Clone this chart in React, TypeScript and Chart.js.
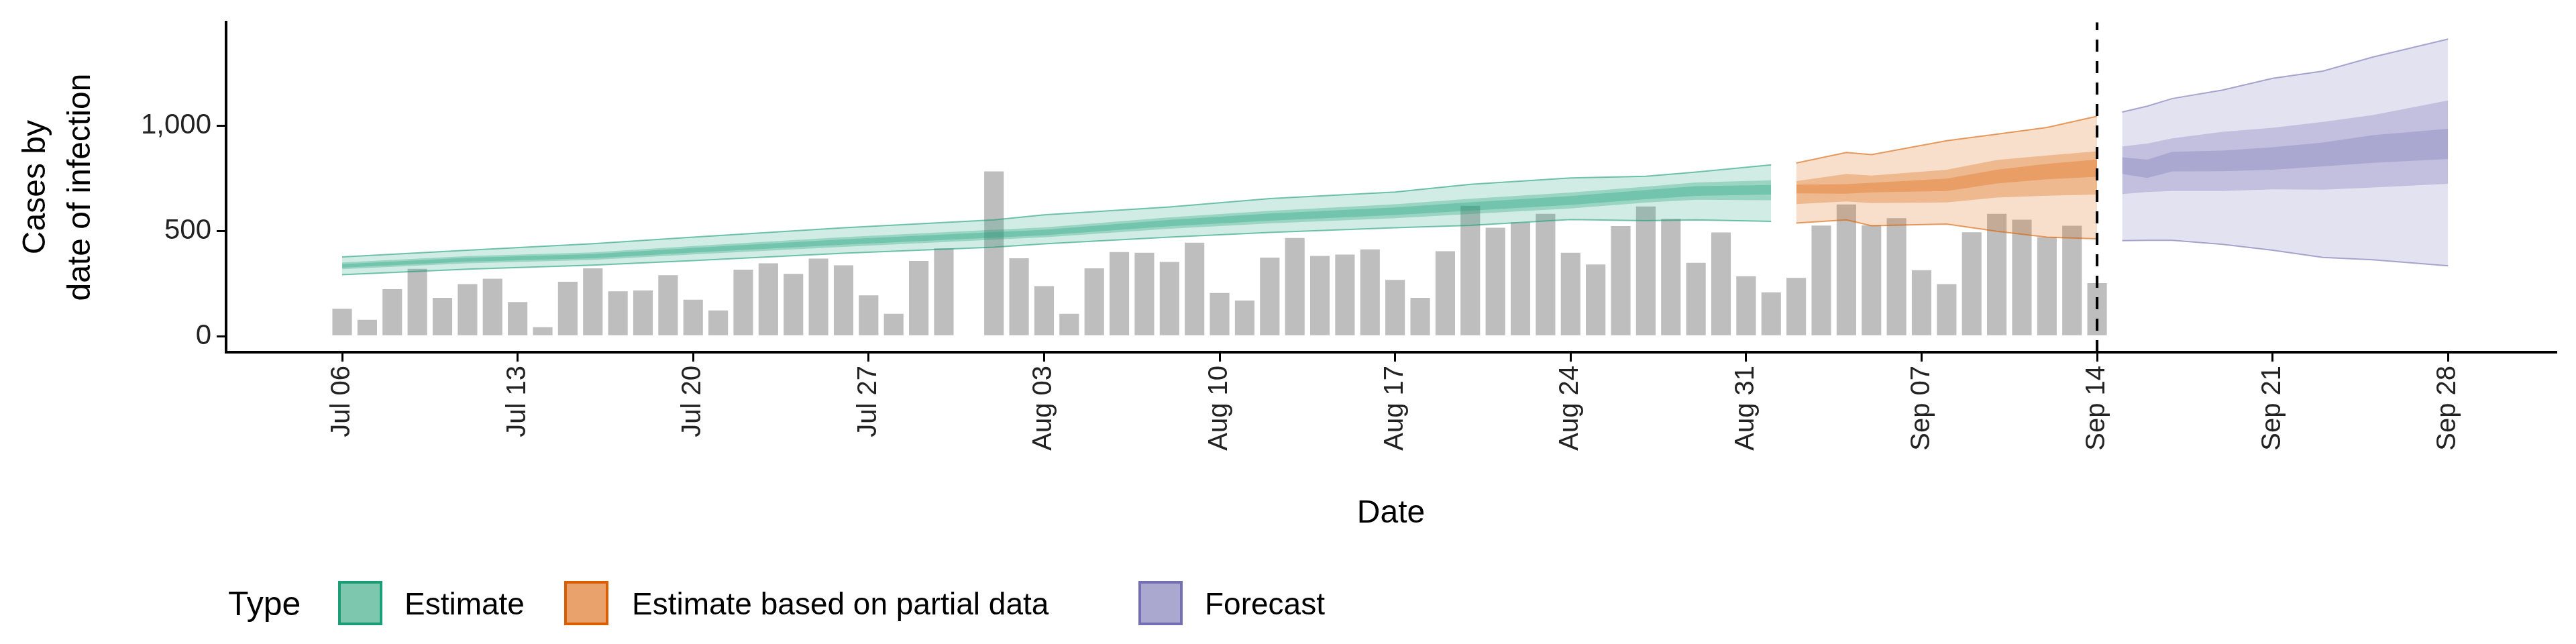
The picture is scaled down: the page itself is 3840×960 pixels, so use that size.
import React, { useEffect, useRef } from 'react';
import { Chart, registerables } from 'chart.js';

Chart.register(...registerables);

// day index: 0 = Jul 06
const tickDays = [0, 7, 14, 21, 28, 35, 42, 49, 56, 63, 70, 77, 84];
const tickLabels = ['Jul 06', 'Jul 13', 'Jul 20', 'Jul 27', 'Aug 03', 'Aug 10', 'Aug 17', 'Aug 24', 'Aug 31', 'Sep 07', 'Sep 14', 'Sep 21', 'Sep 28'];

// reported cases (null = no bar)
const caseDays = Array.from({ length: 71 }, (_, i) => i);
const cases = [
  130, 78, 223, 320, 182, 247, 273, 162, 43, 258, 322, 213, 217, 289,
  173, 122, 316, 346, 296, 368, 336, 194, 106, 357, 417, null, 782, 370,
  238, 106, 322, 399, 396, 352, 444, 205, 169, 373, 466, 381, 387, 412,
  267, 182, 403, 619, 515, 540, 581, 396, 340, 523, 616, 557, 348, 492,
  285, 208, 277, 525, 625, 526, 560, 313, 247, 493, 581, 553, 470, 524, 252,
];

const greenDays = [0, 5, 10, 14, 20, 26, 28, 33, 37, 42, 45, 49, 52, 54, 57];
const greenHi90 = [376, 408, 439, 470, 515, 552, 576, 613, 653, 684, 721, 751, 759, 779, 813];
const greenLo90 = [292, 318, 337, 359, 394, 422, 438, 470, 492, 515, 526, 554, 548, 552, 545];
const greenHi50 = [350, 380, 398, 428, 470, 505, 516, 564, 595, 626, 652, 682, 710, 730, 740];
const greenLo50 = [318, 346, 362, 388, 424, 458, 469, 510, 535, 560, 580, 606, 634, 648, 645];
const greenHi20 = [342, 372, 390, 419, 460, 494, 505, 552, 582, 611, 636, 665, 694, 712, 718];
const greenLo20 = [325, 354, 370, 397, 434, 468, 479, 522, 548, 575, 596, 623, 650, 666, 672];

const orangeDays = [58, 60, 61, 64, 66, 68, 70];
const orangeHi90 = [822, 872, 862, 928, 959, 991, 1044];
const orangeLo90 = [537, 552, 524, 532, 498, 470, 462];
const orangeHi50 = [736, 770, 762, 790, 836, 858, 878];
const orangeLo50 = [627, 640, 632, 635, 658, 667, 672];
const orangeHi20 = [719, 722, 728, 748, 790, 818, 839];
const orangeLo20 = [678, 676, 683, 689, 725, 745, 757];

const purpleDays = [71, 72, 73, 75, 77, 79, 81, 84];
const purpleHi90 = [1064, 1092, 1128, 1168, 1224, 1258, 1325, 1410];
const purpleLo90 = [453, 455, 455, 436, 408, 374, 363, 334];
const purpleHi50 = [901, 914, 939, 970, 989, 1017, 1050, 1119];
const purpleLo50 = [675, 684, 689, 689, 697, 695, 706, 723];
const purpleHi20 = [849, 838, 875, 881, 897, 919, 954, 984];
const purpleLo20 = [770, 751, 782, 783, 790, 806, 823, 841];

const forecastStart = 70;

const pts = (xs: number[], ys: number[]) => xs.map((x, i) => ({ x, y: ys[i] }));

const band = (xs: number[], hi: number[], lo: number[], rgb: string, alpha: number, edge: boolean) => [
  {
    type: 'line' as const,
    data: pts(xs, hi),
    borderColor: edge ? `rgba(${rgb},0.6)` : 'transparent',
    borderWidth: edge ? 2 : 0,
    backgroundColor: `rgba(${rgb},${alpha})`,
    pointRadius: 0,
    fill: '+1',
    order: 1,
  },
  {
    type: 'line' as const,
    data: pts(xs, lo),
    borderColor: edge ? `rgba(${rgb},0.6)` : 'transparent',
    borderWidth: edge ? 2 : 0,
    backgroundColor: 'transparent',
    pointRadius: 0,
    fill: false,
    order: 1,
  },
];

const FONT = '"Liberation Sans", Arial, sans-serif';

const App: React.FC = () => {
  const canvasRef = useRef<HTMLCanvasElement | null>(null);

  useEffect(() => {
    document.body.style.margin = '0';
    if (!canvasRef.current) return;
    const G = '27,158,119';
    const O = '217,95,2';
    const P = '117,112,179';
    const datasets: any[] = [
      {
        type: 'bar',
        data: caseDays.map((x, i) => ({ x, y: cases[i] })),
        backgroundColor: '#bebebe',
        borderWidth: 0,
        barPercentage: 0.78,
        categoryPercentage: 1,
        order: 10,
      },
      ...band(greenDays, greenHi90, greenLo90, G, 0.2, true),
      ...band(greenDays, greenHi50, greenLo50, G, 0.3, false),
      ...band(greenDays, greenHi20, greenLo20, G, 0.3, false),
      ...band(orangeDays, orangeHi90, orangeLo90, O, 0.2, true),
      ...band(orangeDays, orangeHi50, orangeLo50, O, 0.3, false),
      ...band(orangeDays, orangeHi20, orangeLo20, O, 0.3, false),
      ...band(purpleDays, purpleHi90, purpleLo90, P, 0.2, true),
      ...band(purpleDays, purpleHi50, purpleLo50, P, 0.3, false),
      ...band(purpleDays, purpleHi20, purpleLo20, P, 0.3, false),
      {
        type: 'line',
        data: [{ x: forecastStart, y: -76 }, { x: forecastStart, y: 1490 }],
        borderColor: '#000',
        borderWidth: 4,
        borderDash: [18, 14],
        pointRadius: 0,
        fill: false,
        order: 0,
      },
    ];

    const chart = new Chart(canvasRef.current, {
      type: 'bar',
      data: { datasets },
      options: {
        animation: false,
        responsive: false,
        devicePixelRatio: 1,
        layout: { padding: { left: 0, top: 28, right: 30, bottom: 165 } },
        plugins: { legend: { display: false }, tooltip: { enabled: false } },
        scales: {
          x: {
            type: 'linear',
            min: -4.63,
            max: 88.3,
            offset: false,
            afterBuildTicks: (axis: any) => {
              axis.ticks = tickDays.map((v) => ({ value: v }));
            },
            afterFit: (axis: any) => {
              axis.height = 270;
            },
            ticks: {
              callback: (v: any) => tickLabels[tickDays.indexOf(Number(v))] ?? '',
              minRotation: 90,
              maxRotation: 90,
              color: '#222',
              font: { family: FONT, size: 40 },
              padding: 6,
            },
            grid: { offset: false, drawOnChartArea: false, color: '#000', lineWidth: 3, tickLength: 14 },
            border: { color: '#000', width: 4 },
            title: { display: true, text: 'Date', color: '#000', font: { family: FONT, size: 48 }, padding: { top: 0, bottom: 0 } },
          },
          y: {
            type: 'linear',
            min: -76,
            max: 1490,
            afterBuildTicks: (axis: any) => {
              axis.ticks = [0, 500, 1000].map((v) => ({ value: v }));
            },
            afterFit: (axis: any) => {
              axis.width = 337;
            },
            ticks: {
              callback: (v: any) => Number(v).toLocaleString('en-US'),
              color: '#222',
              font: { family: FONT, size: 42 },
              padding: 8,
            },
            grid: { drawOnChartArea: false, color: '#000', lineWidth: 3, tickLength: 14 },
            border: { color: '#000', width: 4 },
            title: {
              display: true,
              text: ['Cases by', 'date of infection'],
              color: '#000',
              font: { family: FONT, size: 48, lineHeight: 1.4 },
              padding: { top: 20, bottom: 0 },
            },
          },
        },
      },
    });

    return () => chart.destroy();
  }, []);

  const legendItems = [
    { label: 'Estimate', fill: '#7cc7ae', border: '#1b9e77', box: 504, text: 603 },
    { label: 'Estimate based on partial data', fill: '#e9a26c', border: '#d95f02', box: 841, text: 942 },
    { label: 'Forecast', fill: '#aba8d0', border: '#7570b3', box: 1697, text: 1796 },
  ];

  return (
    <div style={{ position: 'relative', width: 3840, height: 960, fontFamily: FONT }}>
      <canvas ref={canvasRef} width={3840} height={960} style={{ display: 'block' }} />
      <div style={{ position: 'absolute', left: 340, top: 872, fontSize: 50, lineHeight: '56px' }}>Type</div>
      {legendItems.map((it) => (
        <React.Fragment key={it.label}>
          <div
            style={{
              position: 'absolute',
              left: it.box,
              top: 866,
              width: 66,
              height: 66,
              boxSizing: 'border-box',
              background: it.fill,
              border: `4px solid ${it.border}`,
            }}
          />
          <div style={{ position: 'absolute', left: it.text, top: 874, fontSize: 46, lineHeight: '52px' }}>{it.label}</div>
        </React.Fragment>
      ))}
    </div>
  );
};

export default App;
